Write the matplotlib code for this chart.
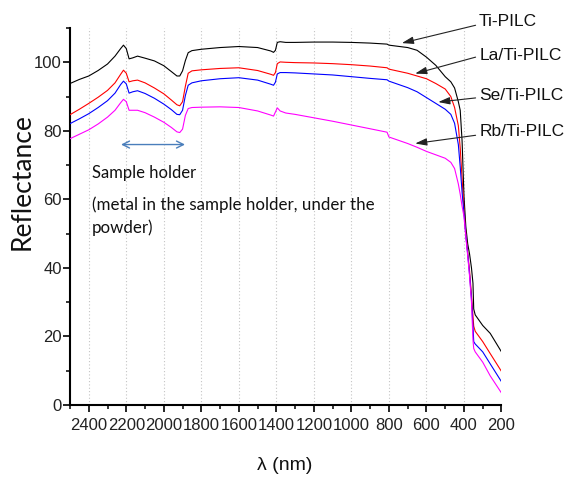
import matplotlib
matplotlib.use("Agg")
import matplotlib.pyplot as plt
from matplotlib.ticker import MultipleLocator

plt.rcParams["font.family"] = ["Liberation Sans", "DejaVu Sans"]

# ---- data ----
wavelength = [2500, 2450, 2400, 2350, 2300, 2260, 2230, 2215, 2200, 2185, 2165, 2140,
              2100, 2050, 2000, 1960, 1930, 1915, 1900, 1885, 1870, 1850, 1800, 1700,
              1600, 1500, 1430, 1415, 1405, 1395, 1380, 1350, 1300, 1200, 1100, 1000,
              900, 810, 800, 700, 650, 600, 550, 500, 470, 450, 430, 420, 410, 400,
              390, 380, 370, 360, 352, 348, 340, 300, 260, 200]

ti_pilc = [93.8, 95.0, 96.0, 97.6, 99.5, 101.8, 104.0, 105.0, 104.0, 101.0, 101.3, 101.8,
           101.2, 100.4, 99.0, 97.3, 96.0, 96.0, 97.5, 100.5, 102.8, 103.4, 103.8, 104.3,
           104.6, 104.3, 103.3, 102.9, 103.5, 105.8, 106.0, 105.8, 105.8, 105.9, 105.9, 105.8,
           105.6, 105.3, 105.0, 104.3, 103.5, 101.5, 99.1, 95.8, 94.3, 92.5, 88.5, 86.0, 77.0, 61.0,
           52.0, 47.0, 44.0, 40.0, 35.5, 28.0, 26.3, 23.2, 20.9, 15.5]

la_ti_pilc = [84.7, 86.3, 88.0, 89.8, 91.8, 94.0, 96.5, 97.7, 96.8, 94.3, 94.6, 94.8,
              94.0, 92.5, 90.8, 89.0, 87.6, 87.3, 88.5, 93.0, 96.8, 97.5, 97.8, 98.2,
              98.4, 97.6, 96.5, 96.2, 97.0, 99.6, 100.1, 100.0, 99.9, 99.8, 99.6, 99.3,
              98.9, 98.4, 98.0, 96.8, 96.0, 95.2, 93.8, 92.2, 90.0, 86.8, 81.5, 75.0, 66.0, 57.0,
              50.0, 44.5, 39.0, 32.0, 26.0, 23.0, 21.5, 18.5, 15.0, 9.8]

se_ti_pilc = [82.1, 83.5, 85.0, 86.8, 88.8, 91.0, 93.5, 94.5, 93.7, 91.0, 91.4, 91.7,
              90.9, 89.5, 87.8, 86.2, 84.8, 84.7, 86.0, 90.3, 93.3, 94.0, 94.6, 95.2,
              95.5, 94.8, 93.6, 93.3, 94.2, 96.6, 97.0, 97.0, 96.9, 96.6, 96.3, 95.8,
              95.3, 94.9, 94.5, 92.6, 91.4, 89.7, 88.0, 86.3, 84.8, 82.2, 76.0, 69.5, 62.0, 56.0,
              49.5, 44.0, 38.0, 31.0, 23.0, 18.5, 17.8, 15.5, 12.0, 6.8]

rb_ti_pilc = [77.7, 79.0, 80.3, 82.0, 84.0, 86.0, 88.2, 89.2, 88.5, 86.0, 86.0, 86.0,
              85.3, 84.0, 82.5, 81.0, 79.7, 79.5, 80.5, 84.5, 86.5, 86.8, 86.9, 87.0,
              86.8, 85.8, 84.6, 84.3, 85.5, 86.7, 85.8, 85.2, 84.8, 83.8, 82.8, 81.7,
              80.6, 79.6, 78.2, 76.3, 75.2, 74.0, 73.0, 72.0, 70.8, 69.0, 64.5, 61.5, 58.0, 55.0,
              49.0, 43.5, 37.5, 30.0, 19.0, 16.5, 15.5, 12.5, 8.5, 3.5]

series_names = ["Ti-PILC", "La/Ti-PILC", "Se/Ti-PILC", "Rb/Ti-PILC"]
series_values = [ti_pilc, la_ti_pilc, se_ti_pilc, rb_ti_pilc]
series_colors = ["#000000", "#ff0000", "#0000ff", "#ff00ff"]

x_ticks = [2400, 2200, 2000, 1800, 1600, 1400, 1200, 1000, 800, 600, 400, 200]
y_ticks = [0, 20, 40, 60, 80, 100]

# label anchor (text position, arrow tail, arrow tip) in data units
label_text_pos = [(324, 111.8), (319, 102.0), (319, 90.4), (314, 79.7)]
label_arrow_tail = [(338, 110.8), (338, 101.5), (338, 89.6), (338, 78.7)]
label_arrow_tip = [(731, 105.6), (660, 96.7), (537, 88.4), (660, 76.3)]

# ---- figure ----
fig = plt.figure(figsize=(5.70, 4.78), dpi=100)
ax = fig.add_axes([0.1228, 0.1527, 0.757, 0.7887])

for xv in x_ticks[:-1]:
    ax.axvline(xv, color="#c4c4c4", lw=0.8, ls=(0, (1, 2)), zorder=0)

for name, vals, col in zip(series_names, series_values, series_colors):
    ax.plot(wavelength, vals, color=col, lw=0.8, zorder=3)

ax.set_xlim(2500, 200)
ax.set_ylim(0, 110)
ax.set_xticks(x_ticks)
ax.set_yticks(y_ticks)
ax.xaxis.set_minor_locator(MultipleLocator(100))
ax.yaxis.set_minor_locator(MultipleLocator(10))

for s in ["top", "right"]:
    ax.spines[s].set_visible(False)
for s in ["left", "bottom"]:
    ax.spines[s].set_linewidth(1.5)

ax.tick_params(which="major", length=5.2, width=1.2, direction="out", labelsize=12,
               colors="#000000", labelcolor="#222222")
ax.tick_params(which="minor", length=3.2, width=1.1, direction="out")
ax.tick_params(axis="x", which="major", pad=4.5)
ax.tick_params(axis="y", which="major", pad=0.8)

# series labels with arrows
for name, tp, tail, tip in zip(series_names, label_text_pos, label_arrow_tail, label_arrow_tip):
    ax.text(tp[0], tp[1], name, ha="left", va="center", fontsize=12.5,
            color="#111111", clip_on=False)
    ax.annotate("", xy=tip, xytext=tail, xycoords="data", textcoords="data",
                arrowprops=dict(arrowstyle="-|>,head_length=0.7,head_width=0.22",
                                color="#222222", lw=0.8, shrinkA=0, shrinkB=0),
                annotation_clip=False)

# sample holder annotation
ax.annotate("", xy=(2228, 76.0), xytext=(1887, 76.0),
            arrowprops=dict(arrowstyle="<->,head_length=0.5,head_width=0.25",
                            color="#4a7ebb", lw=1.0, shrinkA=0, shrinkB=0))
ax.text(2384, 66.3, "Sample holder", ha="left", va="baseline", fontsize=12,
        family="Lato", color="#111111")
ax.text(2384, 57.0, "(metal in the sample holder, under the", ha="left", va="baseline",
        fontsize=12.2, family="Lato", color="#111111")
ax.text(2384, 50.3, "powder)", ha="left", va="baseline", fontsize=12.2,
        family="Lato", color="#111111")

# axis titles
fig.text(21.7 / 570, 1 - 181.5 / 478, "Reflectance", rotation=90, ha="center",
         va="center", fontsize=19, family="Lato", color="#111111")
fig.text(285 / 570, 1 - 465 / 478, "λ (nm)", ha="center", va="center", fontsize=14,
         color="#111111")

fig.savefig("out.png", dpi=100)
